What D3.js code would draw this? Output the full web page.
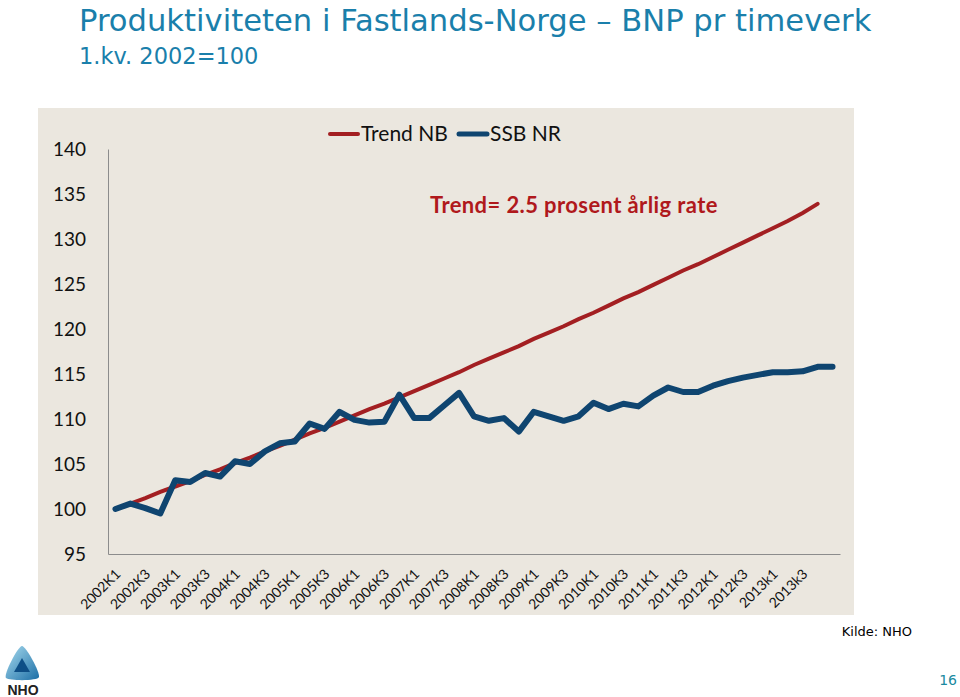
<!DOCTYPE html>
<meta charset="utf-8">
<style>

body {
  margin: 0;
  background: white;
}

.title {
  font-family: "DejaVu Sans", sans-serif;
  fill: #1a7fab;
}

.axis text {
  font-family: Lato, sans-serif;
  fill: #111;
}

.axis path {
  stroke: #8c8c8c;
}

</style>
<svg width="960" height="697"></svg>
<script src="https://cdn.jsdelivr.net/npm/d3@7"></script>
<script>

var quarters = [
  "2002K1", "2002K2", "2002K3", "2002K4", "2003K1", "2003K2", "2003K3", "2003K4",
  "2004K1", "2004K2", "2004K3", "2004K4", "2005K1", "2005K2", "2005K3", "2005K4",
  "2006K1", "2006K2", "2006K3", "2006K4", "2007K1", "2007K2", "2007K3", "2007K4",
  "2008K1", "2008K2", "2008K3", "2008K4", "2009K1", "2009K2", "2009K3", "2009K4",
  "2010K1", "2010K2", "2010K3", "2010K4", "2011K1", "2011K2", "2011K3", "2011K4",
  "2012K1", "2012K2", "2012K3", "2012K4", "2013k1", "2013k2", "2013k3", "2013k4",
  "2014k1"
];

var tickLabels = [
  "2002K1", "2002K3", "2003K1", "2003K3", "2004K1", "2004K3", "2005K1", "2005K3",
  "2006K1", "2006K3", "2007K1", "2007K3", "2008K1", "2008K3", "2009K1", "2009K3",
  "2010K1", "2010K3", "2011K1", "2011K3", "2012K1", "2012K3", "2013k1", "2013k3"
];

var yTicks = [95, 100, 105, 110, 115, 120, 125, 130, 135, 140];

// Trend NB, 2.5 prosent årlig
var trendNB = [
  100.0, 100.6, 101.2, 101.9, 102.5, 103.1, 103.8, 104.4,
  105.1, 105.7, 106.4, 107.0, 107.7, 108.4, 109.0, 109.7,
  110.4, 111.1, 111.7, 112.4, 113.1, 113.8, 114.5, 115.2,
  116.0, 116.7, 117.4, 118.1, 118.9, 119.6, 120.3, 121.1,
  121.8, 122.6, 123.4, 124.1, 124.9, 125.7, 126.5, 127.2,
  128.0, 128.8, 129.6, 130.4, 131.2, 132.0, 132.9, 133.9
];

// SSB NR
var ssbNR = [
  100.0, 100.6, 100.1, 99.5, 103.2, 103.0, 104.0, 103.6,
  105.3, 105.0, 106.4, 107.3, 107.5, 109.5, 108.9, 110.8,
  109.9, 109.6, 109.7, 112.7, 110.1, 110.1, 111.5, 112.9,
  110.3, 109.8, 110.1, 108.6, 110.8, 110.3, 109.8, 110.3,
  111.8, 111.1, 111.7, 111.4, 112.6, 113.5, 113.0, 113.0,
  113.7, 114.2, 114.6, 114.9, 115.2, 115.2, 115.3, 115.8,
  115.8
];

var svg = d3.select("svg");

// panel
svg.append("rect")
    .attr("x", 38)
    .attr("y", 108)
    .attr("width", 816)
    .attr("height", 507)
    .attr("fill", "#ebe7df");

var x = d3.scaleBand()
    .domain(quarters)
    .range([108, 840]);

var y = d3.scaleLinear()
    .domain([95, 140])
    .range([554, 149]);

var cx = function(i) { return x(quarters[i]) + x.bandwidth() / 2; };

// y axis
svg.append("g")
    .attr("class", "axis")
    .attr("transform", "translate(108,0)")
    .call(d3.axisLeft(y).tickValues(yTicks).tickSize(0).tickPadding(22))
    .call(function(g) { g.selectAll("text").style("font-size", "19px"); });

// x axis
var xAxis = svg.append("g")
    .attr("class", "axis")
    .attr("transform", "translate(0,554)")
    .call(d3.axisBottom(x).tickValues(tickLabels).tickSize(0).tickPadding(0));

xAxis.selectAll("text")
    .style("font-size", "14px")
    .attr("text-anchor", "end")
    .attr("dy", "0.7em")
    .attr("transform", "translate(-1,14) rotate(-45)");

var line = d3.line()
    .x(function(d, i) { return cx(i); })
    .y(function(d) { return y(d); });

svg.append("path")
    .datum(trendNB)
    .attr("fill", "none")
    .attr("stroke", "#a31f22")
    .attr("stroke-width", 4)
    .attr("stroke-linecap", "round")
    .attr("d", line);

svg.append("path")
    .datum(ssbNR)
    .attr("fill", "none")
    .attr("stroke", "#0f4570")
    .attr("stroke-width", 6)
    .attr("stroke-linejoin", "round")
    .attr("stroke-linecap", "round")
    .attr("d", line);

// legend
var legend = svg.append("g")
    .style("font-family", "Lato, sans-serif")
    .style("font-size", "21px");

[["Trend NB", "#a31f22", 330, 4], ["SSB NR", "#0f4570", 459, 5]].forEach(function(d) {
  legend.append("line")
      .attr("x1", d[2]).attr("x2", d[2] + 28)
      .attr("y1", 134).attr("y2", 134)
      .attr("stroke", d[1])
      .attr("stroke-width", d[3])
      .attr("stroke-linecap", "round");
  legend.append("text")
      .attr("x", d[2] + 31)
      .attr("y", 141)
      .attr("fill", "#111")
      .text(d[0]);
});

svg.append("text")
    .attr("x", 430)
    .attr("y", 213)
    .attr("fill", "#b0191c")
    .style("font-family", "Lato, sans-serif")
    .style("font-weight", "bold")
    .style("font-size", "22px")
    .style("letter-spacing", "0.4px")
    .text("Trend= 2.5 prosent årlig rate");

// title
svg.append("text")
    .attr("class", "title")
    .attr("x", 79)
    .attr("y", 31)
    .style("font-size", "30.6px")
    .text("Produktiviteten i Fastlands-Norge – BNP pr timeverk");

svg.append("text")
    .attr("class", "title")
    .attr("x", 79)
    .attr("y", 64)
    .style("font-size", "22.5px")
    .text("1.kv. 2002=100");

svg.append("text")
    .attr("x", 912)
    .attr("y", 636)
    .attr("text-anchor", "end")
    .style("font-family", "DejaVu Sans, sans-serif")
    .style("font-size", "13px")
    .text("Kilde: NHO");

svg.append("text")
    .attr("x", 957)
    .attr("y", 685)
    .attr("text-anchor", "end")
    .attr("fill", "#1a8aa0")
    .style("font-family", "DejaVu Sans, sans-serif")
    .style("font-size", "14px")
    .text("16");

// NHO logo
var grad = svg.append("defs").append("linearGradient")
    .attr("id", "logo")
    .attr("x1", 0).attr("y1", 0).attr("x2", 1).attr("y2", 1);
grad.append("stop").attr("offset", 0).attr("stop-color", "#a9dcef");
grad.append("stop").attr("offset", 1).attr("stop-color", "#1b6ea6");

svg.append("path")
    .attr("d", "M22,646 C26,646 40,672 39,677 C38,681 10,681 6,678 C3,675 18,646 22,646 Z")
    .attr("fill", "url(#logo)");
svg.append("path")
    .attr("d", "M22,658 L30,672 L14,672 Z")
    .attr("fill", "#0e4f86");

svg.append("text")
    .attr("x", 23)
    .attr("y", 695)
    .attr("text-anchor", "middle")
    .style("font-family", "Liberation Sans, sans-serif")
    .style("font-size", "14px")
    .style("font-weight", "bold")
    .attr("fill", "#222")
    .text("NHO");

</script>
